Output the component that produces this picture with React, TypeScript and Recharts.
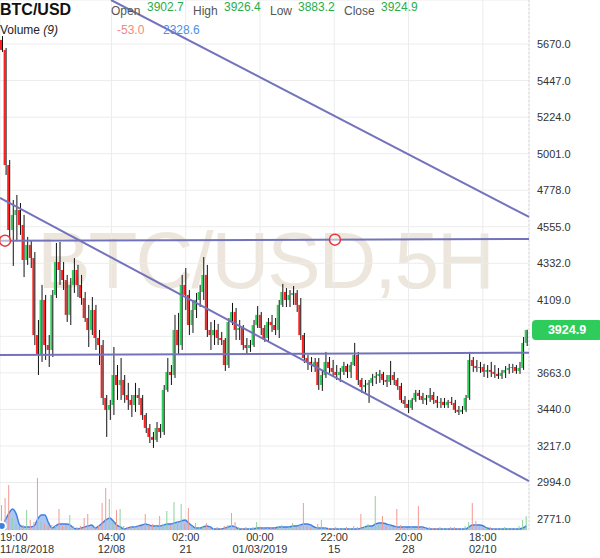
import React from "react";
import {
  ComposedChart, Bar, Area, XAxis, YAxis, CartesianGrid,
  ReferenceLine, ReferenceDot, Cell,
} from "recharts";

// 15H candles (three 5H bars each)
const opens = [
  5695, 5634, 4932, 4535, 4627, 4657, 4566, 4352, 4444, 4364, 3894, 3772, 4108, 3833, 3803, 4139, 4340, 4291, 4230, 4017,
  4200, 4291, 4200, 4120, 3998, 3925, 4047, 3876, 3833, 3510, 3437, 3467, 3650, 3589, 3620, 3528, 3498, 3467, 3528, 3510,
  3406, 3327, 3272, 3254, 3327, 3302, 3559, 3669, 3650, 3925, 3833, 4200, 4139, 3955, 4047, 4108, 4157, 4261, 3925, 3894,
  3925, 3876, 3864, 3711, 3974, 4035, 3925, 3937, 3833, 3815, 3833, 3955, 4017, 3937, 3876, 3974, 3955, 3925, 4078, 4157,
  4108, 4139, 4151, 4078, 3894, 3754, 3730, 3711, 3730, 3589, 3650, 3730, 3693, 3669, 3650, 3669, 3705, 3669, 3711, 3772,
  3620, 3577, 3589, 3602, 3632, 3644, 3657, 3620, 3608, 3650, 3620, 3583, 3498, 3473, 3449, 3498, 3541, 3522, 3498, 3510,
  3528, 3498, 3480, 3486, 3467, 3486, 3480, 3437, 3425, 3437, 3510, 3742, 3705, 3693, 3699, 3669, 3681, 3669, 3657, 3644,
  3663, 3681, 3693, 3699, 3675, 3693, 3846,
];
const highs = [
  5719, 5646, 4962, 4718, 4749, 4700, 4627, 4493, 4474, 4401, 3986, 4200, 4139, 3894, 4169, 4456, 4462, 4340, 4261, 4242,
  4364, 4322, 4261, 4157, 4078, 4126, 4078, 3925, 3864, 3528, 3498, 3821, 3711, 3754, 3650, 3602, 3528, 3602, 3571, 3528,
  3418, 3351, 3302, 3363, 3351, 3589, 3754, 3711, 4017, 4029, 4261, 4303, 4169, 4108, 4151, 4200, 4370, 4322, 3974, 3986,
  3962, 3913, 3876, 3998, 4090, 4059, 3986, 3955, 3876, 3864, 3986, 4071, 4035, 3955, 3998, 4017, 3998, 4108, 4206, 4181,
  4169, 4193, 4169, 4120, 3907, 3772, 3760, 3754, 3754, 3681, 3791, 3760, 3742, 3711, 3693, 3730, 3718, 3730, 3846, 3791,
  3632, 3620, 3620, 3657, 3669, 3681, 3669, 3650, 3736, 3669, 3632, 3602, 3522, 3498, 3510, 3559, 3559, 3541, 3528, 3571,
  3547, 3522, 3510, 3510, 3498, 3516, 3498, 3461, 3461, 3528, 3791, 3760, 3742, 3730, 3718, 3711, 3730, 3711, 3693, 3681,
  3705, 3718, 3718, 3711, 3730, 3882, 3926.4,
];
const lows = [
  5622, 4871, 4474, 4316, 4474, 4505, 4248, 4322, 4303, 3833, 3650, 3730, 3742, 3699, 3760, 4120, 4200, 4169, 3974, 3955,
  4151, 4126, 4078, 3974, 3821, 3894, 3803, 3711, 3467, 3272, 3376, 3406, 3498, 3498, 3480, 3437, 3394, 3425, 3467, 3376,
  3296, 3235, 3205, 3241, 3266, 3284, 3547, 3589, 3632, 3772, 3803, 4047, 3894, 3907, 3998, 4065, 4108, 3882, 3803, 3833,
  3833, 3833, 3675, 3693, 3955, 3864, 3864, 3803, 3772, 3791, 3821, 3937, 3894, 3852, 3852, 3913, 3894, 3876, 4065, 4065,
  4065, 4078, 4035, 3864, 3724, 3681, 3669, 3669, 3559, 3553, 3632, 3663, 3638, 3620, 3608, 3650, 3632, 3632, 3705, 3589,
  3541, 3541, 3480, 3583, 3595, 3602, 3589, 3577, 3589, 3589, 3559, 3480, 3449, 3418, 3437, 3486, 3498, 3473, 3467, 3486,
  3473, 3449, 3449, 3449, 3449, 3467, 3418, 3406, 3412, 3425, 3498, 3669, 3669, 3663, 3638, 3632, 3638, 3632, 3626, 3626,
  3632, 3657, 3663, 3657, 3657, 3681, 3827,
];
const closes = [
  5634, 4932, 4535, 4627, 4657, 4566, 4352, 4444, 4364, 3894, 3772, 4108, 3833, 3803, 4139, 4340, 4291, 4230, 4017, 4200,
  4291, 4200, 4120, 3998, 3925, 4047, 3876, 3833, 3510, 3437, 3467, 3650, 3589, 3620, 3528, 3498, 3467, 3528, 3510, 3406,
  3327, 3272, 3254, 3327, 3302, 3559, 3669, 3650, 3925, 3833, 4200, 4139, 3955, 4047, 4108, 4157, 4261, 3925, 3894, 3925,
  3876, 3864, 3711, 3974, 4035, 3925, 3937, 3833, 3815, 3833, 3955, 4017, 3937, 3876, 3974, 3955, 3925, 4078, 4157, 4108,
  4139, 4151, 4078, 3894, 3754, 3730, 3711, 3730, 3589, 3650, 3730, 3693, 3669, 3650, 3669, 3705, 3669, 3711, 3772, 3620,
  3577, 3589, 3602, 3632, 3644, 3657, 3620, 3608, 3650, 3620, 3583, 3498, 3473, 3449, 3498, 3541, 3522, 3498, 3510, 3528,
  3498, 3480, 3486, 3467, 3486, 3480, 3437, 3425, 3437, 3510, 3742, 3705, 3693, 3699, 3669, 3681, 3669, 3657, 3644, 3663,
  3681, 3693, 3699, 3675, 3693, 3846, 3924.9,
];
// volume in thousands, and its 9-period average as drawn
const volumes = [
  14.2, 18.1, 25.5, 6.8, 3.4, 2.3, 2.8, 11.3, 5.7, 4.5, 29.4, 5.1, 3.4, 2.3, 2.8, 2.3, 11.9, 2.3, 2.8, 8.5,
  2.3, 1.7, 2.3, 6.8, 9.1, 2.3, 1.7, 2.8, 15.3, 23.8, 17.5, 4.5, 11.3, 11.9, 2.3, 1.7, 2.3, 1.7, 2.8, 2.3,
  9.1, 2.8, 3.4, 2.3, 7.9, 3.4, 10.8, 2.8, 15.8, 4.5, 14.7, 3.4, 12.5, 2.3, 4.0, 1.7, 2.3, 4.0, 1.7, 1.1,
  1.7, 1.1, 2.3, 2.8, 9.6, 4.5, 1.7, 1.1, 1.7, 1.1, 1.7, 4.5, 1.1, 1.7, 1.1, 1.7, 1.1, 2.3, 2.8, 1.1,
  1.7, 4.0, 1.7, 2.8, 15.3, 2.3, 1.7, 1.1, 3.4, 5.7, 1.7, 1.1, 1.1, 1.7, 1.1, 1.1, 1.7, 1.1, 2.3, 1.7,
  9.1, 2.3, 3.4, 1.7, 19.2, 2.8, 7.9, 2.3, 2.8, 1.7, 11.9, 2.8, 1.7, 1.1, 1.7, 1.1, 13.6, 1.7, 1.1, 1.7,
  1.1, 1.1, 1.7, 1.1, 1.1, 1.7, 1.7, 1.1, 1.1, 2.3, 4.5, 15.3, 5.1, 1.7, 1.1, 1.1, 1.7, 1.1, 1.1, 1.1,
  1.7, 1.1, 1.1, 1.1, 2.3, 5.7, 7.9,
];
const volumeMA = [
  2.3, 5.7, 9.6, 11.9, 9.1, 2.8, 1.7, 1.7, 1.7, 2.3, 6.2, 8.5, 8.5, 4.0, 1.1, 2.3, 3.4, 3.4, 3.4, 2.8,
  1.1, 0.6, 1.1, 1.7, 2.3, 2.8, 1.1, 2.3, 4.0, 5.7, 6.8, 5.1, 2.8, 1.7, 0.6, 1.1, 1.7, 1.7, 2.3, 2.8,
  3.4, 2.8, 2.3, 2.3, 2.3, 2.8, 3.4, 3.4, 4.0, 4.5, 5.1, 5.7, 4.0, 2.3, 1.1, 1.1, 1.7, 2.3, 1.7, 0.6,
  0.6, 0.6, 1.1, 1.7, 2.3, 1.7, 0.6, 0.6, 0.6, 0.6, 0.6, 1.1, 1.1, 1.1, 1.1, 1.1, 1.1, 1.7, 1.7, 1.7,
  1.7, 2.3, 2.3, 2.8, 3.4, 3.4, 2.8, 1.7, 1.1, 1.1, 1.1, 0.6, 0.6, 0.6, 0.6, 0.6, 0.6, 0.6, 0.6, 0.6,
  1.1, 1.7, 2.3, 2.3, 3.4, 4.0, 4.0, 3.4, 2.8, 2.3, 1.7, 1.7, 1.7, 1.7, 1.7, 1.7, 1.7, 1.7, 1.1, 0.6,
  0.6, 0.6, 0.6, 0.6, 0.6, 0.6, 0.6, 0.6, 0.6, 0.6, 1.7, 2.8, 2.8, 2.8, 2.3, 1.1, 0.6, 0.6, 0.6, 0.6,
  0.6, 0.6, 0.6, 0.6, 0.6, 1.1, 2.33,
];

const tickBars = [0, 93, 155, 217, 279, 341, 403];
const tickTimes = ["19:00", "04:00", "02:00", "00:00", "22:00", "20:00", "18:00"];
const tickDates = ["11/18/2018", "12/08", "21", "01/03/2019", "15", "28", "02/10"];
const priceTicks = [2771, 2994, 3217, 3440, 3663, 3886, 4109, 4332, 4555, 4778, 5001, 5224, 5447, 5670];
const hiddenPriceLabel = 3886; // sits under the last-price badge

const lastBar = 441.6;
const GREEN = "#2fd05a";
const RED = "#ff1f1f";
const LINE = "#7373bb";

const data = closes.map((c, i) => ({
  t: i * 3 + 1.5,
  range: [lows[i], highs[i]],
  open: opens[i],
  high: highs[i],
  low: lows[i],
  close: c,
  vol: volumes[i],
  ma: volumeMA[i],
}));

function Candle(props: any) {
  const { x, y, width, height, payload } = props;
  if (!payload) return null;
  const top = Math.min(y, y + height);
  const h = Math.abs(height);
  const span = payload.high - payload.low || 1;
  const yOf = (v: number) => top + ((payload.high - v) / span) * h;
  const up = payload.close >= payload.open;
  const b1 = yOf(Math.max(payload.open, payload.close));
  const b2 = yOf(Math.min(payload.open, payload.close));
  const wx = x + width - 0.5;
  return (
    <g>
      <rect x={x} y={b1} width={width - 1} height={Math.max(1, b2 - b1)} fill={up ? GREEN : RED} />
      <line x1={wx} x2={wx} y1={top} y2={top + h} stroke="#111" strokeWidth={1} />
    </g>
  );
}

function TimeTick(props: any) {
  const { x, y, payload } = props;
  const i = tickBars.indexOf(payload.value);
  const anchor = i === 0 ? "start" : "middle";
  return (
    <text x={x} y={y} textAnchor={anchor} fontSize={11} fill="#333">
      <tspan x={x} dy={11}>{tickTimes[i]}</tspan>
      <tspan x={x} dy={12}>{tickDates[i]}</tspan>
    </text>
  );
}

function PriceTick(props: any) {
  const { x, y, payload } = props;
  if (payload.value === hiddenPriceLabel) return null;
  return (
    <text x={x} y={y} dy={4} textAnchor="start" fontSize={11} fill="#333">
      {Number(payload.value).toFixed(1)}
    </text>
  );
}

function Badge(props: any) {
  const vb = props.viewBox;
  if (!vb) return null;
  const x = vb.x + vb.width + 3;
  return (
    <g>
      <rect x={x} y={vb.y - 10} width={70} height={20} rx={4} fill="#2ecc5b" />
      <text x={x + 35} y={vb.y + 4.5} textAnchor="middle" fontSize={12.5} fontWeight="bold" fill="#fff">
        {closes[closes.length - 1].toFixed(1)}
      </text>
    </g>
  );
}

const hdr: React.CSSProperties = { position: "absolute", fontSize: 12, lineHeight: "12px", whiteSpace: "nowrap" };

export default function App() {
  return (
    <div style={{ position: "absolute", left: 0, top: 0, width: 600, height: 558, background: "#fff", fontFamily: "'Liberation Sans', Arial, sans-serif", overflow: "hidden" }}>
      <svg width={600} height={558} style={{ position: "absolute", left: 0, top: 0 }}>
        <text x={265} y={288} textAnchor="middle" fontSize={80} letterSpacing={-2} fill="#ece6dc">BTC/USD,5H</text>
      </svg>
      <div style={{ position: "absolute", left: 0, top: 0 }}>
        <ComposedChart width={600} height={558} data={data} margin={{ top: 0, right: 0, bottom: 0, left: 0 }}>
          <CartesianGrid xAxisId="p" yAxisId="p" stroke="#ececec" />
          <XAxis xAxisId="p" dataKey="t" type="number" domain={[0, lastBar]} ticks={tickBars} interval={0}
            tick={<TimeTick />} axisLine={false} tickLine={false} tickSize={0} tickMargin={0} height={28} allowDataOverflow />
          <XAxis xAxisId="v" dataKey="t" type="number" domain={[0, lastBar]} hide />
          <YAxis yAxisId="p" orientation="right" width={71} domain={[2704, 5939]} ticks={priceTicks} interval={0}
            tick={<PriceTick />} axisLine={false} tickLine={false} allowDataOverflow />
          <YAxis yAxisId="v" domain={[0, 300]} hide />
          <Area xAxisId="v" yAxisId="v" dataKey="ma" type="monotone" stroke="#3f7fe0" strokeWidth={1.5}
            fill="#8fb4ee" fillOpacity={0.75} isAnimationActive={false} />
          <Bar xAxisId="v" yAxisId="v" dataKey="vol" barSize={1} isAnimationActive={false}>
            {data.map((d, i) => (
              <Cell key={i} fill={d.close >= d.open ? "#8fd0a0" : "#f09a92"} />
            ))}
          </Bar>
          <Bar xAxisId="p" yAxisId="p" dataKey="range" barSize={3} shape={<Candle />} isAnimationActive={false} />
          <ReferenceLine xAxisId="p" yAxisId="p" x={lastBar} stroke="#d9d9d9" strokeDasharray="2 2" />
          <ReferenceLine xAxisId="p" yAxisId="p" segment={[{ x: 92.7, y: 5939 }, { x: lastBar, y: 4615 }]} stroke={LINE} strokeWidth={2} />
          <ReferenceLine xAxisId="p" yAxisId="p" segment={[{ x: 0, y: 4731 }, { x: lastBar, y: 3003 }]} stroke={LINE} strokeWidth={2} />
          <ReferenceLine xAxisId="p" yAxisId="p" segment={[{ x: 0, y: 4470 }, { x: lastBar, y: 4480 }]} stroke={LINE} strokeWidth={2} />
          <ReferenceLine xAxisId="p" yAxisId="p" segment={[{ x: 0, y: 3772 }, { x: lastBar, y: 3786 }]} stroke={LINE} strokeWidth={2} />
          <ReferenceDot xAxisId="p" yAxisId="p" x={4.2} y={4470.1} r={5.5} fill="#fff" fillOpacity={0.5} stroke="#e53935" strokeWidth={1.5} />
          <ReferenceDot xAxisId="p" yAxisId="p" x={279.6} y={4476.3} r={5.5} fill="#fff" fillOpacity={0.5} stroke="#e53935" strokeWidth={1.5} />
          <ReferenceLine xAxisId="p" yAxisId="p" y={3924.9} stroke="none" label={(p: any) => <Badge viewBox={p.viewBox} />} />
        </ComposedChart>
      </div>
      <div style={{ ...hdr, left: 0, top: 2, fontSize: 16, lineHeight: "16px", fontWeight: "bold", color: "#111" }}>BTC/USD</div>
      <div style={{ ...hdr, left: 111, top: 5, color: "#555" }}>Open</div>
      <div style={{ ...hdr, left: 147, top: 1, color: "#27ae4a" }}>3902.7</div>
      <div style={{ ...hdr, left: 193, top: 5, color: "#555" }}>High</div>
      <div style={{ ...hdr, left: 224, top: 1, color: "#27ae4a" }}>3926.4</div>
      <div style={{ ...hdr, left: 270, top: 5, color: "#555" }}>Low</div>
      <div style={{ ...hdr, left: 298, top: 1, color: "#27ae4a" }}>3883.2</div>
      <div style={{ ...hdr, left: 344, top: 5, color: "#555" }}>Close</div>
      <div style={{ ...hdr, left: 381, top: 1, color: "#27ae4a" }}>3924.9</div>
      <div style={{ ...hdr, left: 0, top: 24, color: "#222" }}>Volume <i>(9)</i></div>
      <div style={{ ...hdr, left: 117, top: 24, color: "#f08a80" }}>-53.0</div>
      <div style={{ ...hdr, left: 163, top: 24, color: "#4f8ee6" }}>2328.6</div>
    </div>
  );
}
